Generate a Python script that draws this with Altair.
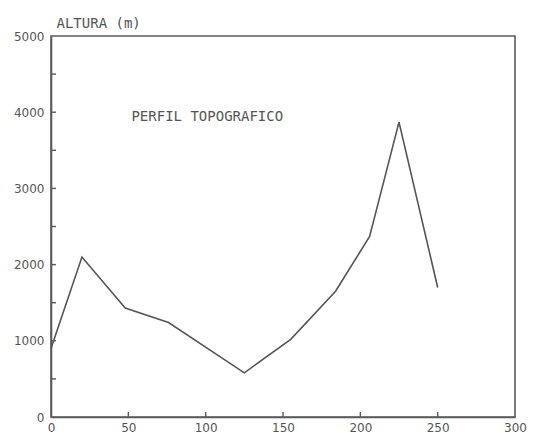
import altair as alt
import pandas as pd

# Profile data (distance, altitude in m)
distancia = [0, 20, 48, 76, 125, 155, 184, 206, 225, 250]
altura = [900, 2100, 1430, 1240, 580, 1020, 1650, 2370, 3870, 1700]

x_ticks = [50, 100, 150, 200, 250]
y_ticks = [500, 1000, 1500, 2000, 2500, 3000, 3500, 4000, 4500]
x_labels = [0, 50, 100, 150, 200, 250, 300]
y_labels = [0, 500, 1000, 1500, 2000, 2500, 3000, 3500, 4000, 4500, 5000]

titulo = "PERFIL TOPOGRAFICO"
titulo_x = 52
titulo_y = 3885

W, H = 464, 381
GREY = "#5a5a5a"

df = pd.DataFrame({"d": distancia, "h": altura})

xscale = alt.Scale(domain=[0, 300], nice=False, zero=False)
yscale = alt.Scale(domain=[0, 5000], nice=False)

xaxis = alt.Axis(values=x_labels, ticks=False, grid=False, labelPadding=5,
                 format="d", labelOverlap=False, labelFlush=False,
                 domainColor=GREY, domainWidth=1.6, labelColor="#555",
                 labelFont="DejaVu Sans", labelFontSize=12, title=None)
yaxis = alt.Axis(values=y_labels, ticks=False, grid=False, labelPadding=7,
                 format="d", labelOverlap=False, labelFlush=False,
                 domainColor=GREY, domainWidth=1.6, labelColor="#555",
                 labelFont="DejaVu Sans", labelFontSize=12,
                 title="ALTURA (m)", titleAngle=0, titleX=5, titleY=-9,
                 titleAlign="left", titleBaseline="alphabetic",
                 titleFont="DejaVu Sans Mono", titleFontSize=14,
                 titleFontWeight="normal", titleColor="#555")

line = alt.Chart(df).mark_line(color="#555", strokeWidth=1.6).encode(
    x=alt.X("d:Q", scale=xscale, axis=xaxis),
    y=alt.Y("h:Q", scale=yscale, axis=yaxis),
)

yt = alt.Chart(pd.DataFrame({"v": y_ticks})).mark_rule(color=GREY, strokeWidth=1.4).encode(
    y=alt.Y("v:Q", scale=yscale),
    x=alt.value(0), x2=alt.value(5),
)
xt = alt.Chart(pd.DataFrame({"v": x_ticks})).mark_rule(color=GREY, strokeWidth=1.4).encode(
    x=alt.X("v:Q", scale=xscale),
    y=alt.value(H), y2=alt.value(H - 5),
)

label = alt.Chart(pd.DataFrame({"x": [titulo_x], "y": [titulo_y], "t": [titulo]})).mark_text(
    align="left", baseline="alphabetic", font="DejaVu Sans Mono", fontSize=14,
    color="#555"
).encode(
    x=alt.X("x:Q", scale=xscale),
    y=alt.Y("y:Q", scale=yscale),
    text="t:N",
)

chart = alt.layer(line, yt, xt, label).properties(
    width=W, height=H,
    background="white",
    autosize=alt.AutoSizeParams(type="none"),
    padding={"left": 43, "top": 28, "right": 13, "bottom": 19},
).configure_view(stroke=GREY, strokeWidth=1.6)

chart.save("out.html", embed_options={"renderer": "svg", "actions": False})
